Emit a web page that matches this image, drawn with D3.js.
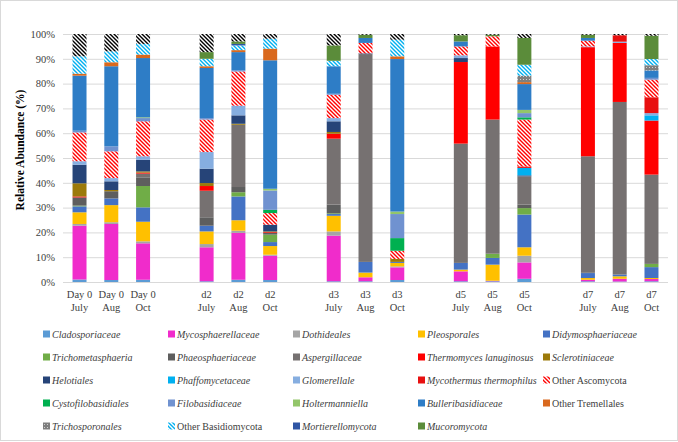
<!DOCTYPE html>
<html><head><meta charset="utf-8">
<script src="https://cdn.jsdelivr.net/npm/d3@7/dist/d3.min.js"></script>
<style>body{margin:0;background:#fff}svg{display:block}</style>
</head><body><svg id="c" width="678" height="442"></svg>
<script>
// ---- data ----
const groups = ["Day 0", "d2", "d3", "d5", "d7"];
const months = ["July", "Aug", "Oct"];
const yTicks = [0, 10, 20, 30, 40, 50, 60, 70, 80, 90, 100];
const seriesNames = ["Cladosporiaceae","Mycosphaerellaceae","Dothideales","Pleosporales","Didymosphaeriaceae",
  "Trichometasphaeria","Phaeosphaeriaceae","Aspergillaceae","Thermomyces lanuginosus","Sclerotiniaceae",
  "Helotiales","Phaffomycetaceae","Glomerellale","Mycothermus thermophilus","Other Ascomycota",
  "Cystofilobasidiales","Filobasidiaceae","Holtermanniella","Bulleribasidiaceae","Other Tremellales",
  "Trichosporonales","Other Basidiomycota","Mortierellomycota","Mucoromycota","Unassigned"];
// bars: D0 Jul, D0 Aug, D0 Oct, d2 Jul, d2 Aug, d2 Oct, d3 Jul, d3 Aug, d3 Oct, d5 Jul, d5 Aug, d5 Oct, d7 Jul, d7 Aug, d7 Oct
const cladosporiaceae     = [1.0, 0.8, 0.9, 0.3, 0.9, 0.8, 0.3, 0.3, 0.8, 0.3, 0.3, 1.3, 0.3, 0.2, 0.3];
const mycosphaerellaceae  = [21.7, 22.6, 14.7, 13.7, 18.9, 9.8, 18.4, 1.6, 5.1, 4.0, 0.2, 6.6, 0.6, 1.1, 0.9];
const dothideales         = [0.7, 0.7, 0.8, 1.3, 0.9, 0.4, 1.7, 0, 0.4, 0, 0, 2.7, 0, 0, 0];
const pleosporales        = [4.7, 6.9, 7.9, 5.1, 4.2, 3.5, 6.3, 1.9, 1.4, 0.7, 6.5, 3.4, 0.7, 1.0, 0.4];
const didymosphaeriaceae  = [2.4, 2.7, 5.8, 2.3, 9.6, 1.6, 0.7, 4.3, 0.4, 2.7, 2.7, 13.2, 2.0, 0.7, 4.4];
const trichometasphaeria  = [0.3, 0, 8.6, 0, 1.7, 3.0, 0.3, 0, 0, 0, 1.7, 2.6, 0, 0, 1.3];
const phaeosphaeriaceae   = [3.3, 2.9, 3.5, 3.4, 2.1, 0.7, 3.5, 0, 0, 0, 0, 1.4, 0.3, 0, 0];
const aspergillaceae      = [0, 0, 1.5, 10.7, 25.1, 0, 26.6, 83.8, 0, 48.1, 54.1, 11.4, 46.8, 69.6, 36.0];
const thermomyces         = [0.4, 0, 0.4, 1.9, 0, 0.3, 2.0, 0, 0, 32.9, 29.5, 0, 44.0, 23.8, 21.8];
const sclerotiniaceae     = [5.3, 0.5, 0.5, 1.2, 0.4, 0.3, 0.7, 0, 1.2, 0, 0, 0, 0, 0, 0];
const helotiales          = [7.5, 3.5, 4.7, 5.8, 3.4, 2.7, 4.3, 0.3, 0, 1.6, 0, 0.4, 0, 0, 0];
const phaffomycetaceae    = [0, 0, 0, 0, 0, 0, 0, 0, 0, 0, 0, 3.0, 0, 0, 2.1];
const glomerellale        = [1.4, 1.3, 1.4, 6.7, 3.9, 0, 1.3, 0, 0, 1.1, 0, 0, 0.3, 0.5, 0.9];
const mycothermus         = [0, 0, 0, 0, 0, 0, 0, 0, 0, 0, 0, 0.6, 0, 2.6, 6.4];
const otherAscomycota     = [11.6, 10.8, 14.1, 13.1, 13.8, 4.7, 9.4, 4.2, 3.3, 3.6, 4.1, 18.9, 2.3, 0, 7.1];
const cystofilobasidiales = [0, 0, 0, 0, 0, 1.3, 0, 0, 5.1, 0, 0, 0.9, 0, 0, 0];
const filobasidiaceae     = [0.7, 2.0, 1.3, 0.6, 0.4, 7.8, 0.4, 0, 9.7, 0, 0, 1.7, 0, 0, 0.7];
const holtermanniella     = [0, 0, 0.3, 0, 0, 0.7, 0, 0, 1.0, 0, 0, 1.3, 0, 0, 0];
const bulleribasidiaceae  = [22.2, 32.3, 23.9, 20.2, 7.4, 51.8, 11.1, 2.0, 61.5, 2.0, 0, 10.4, 1.1, 0, 3.0];
const otherTremellales    = [0.8, 1.6, 1.4, 0.7, 0.8, 4.7, 0, 0, 1.1, 0, 0, 0.8, 0, 0, 0];
const trichosporonales    = [0, 0, 0, 0, 0, 0, 0, 0, 0, 0, 0, 2.6, 0, 0, 2.1];
const otherBasidiomycota  = [7.0, 4.4, 4.3, 3.0, 1.9, 4.0, 2.2, 0, 6.7, 0, 0, 4.4, 0, 0, 2.5];
const mortierellomycota   = [0, 0, 0, 0, 0.6, 0, 0, 0, 0, 0, 0, 0, 0, 0, 0];
const mucoromycota        = [0, 0, 0, 2.7, 1.0, 0, 6.2, 1.3, 0, 2.5, 0.6, 10.8, 1.3, 0, 9.4];
const unassigned          = [9.0, 7.0, 4.0, 7.3, 3.0, 1.9, 4.6, 0.3, 2.3, 0.5, 0.3, 1.6, 0.3, 0.5, 0.7];

const seriesValues = [cladosporiaceae, mycosphaerellaceae, dothideales, pleosporales, didymosphaeriaceae,
  trichometasphaeria, phaeosphaeriaceae, aspergillaceae, thermomyces, sclerotiniaceae,
  helotiales, phaffomycetaceae, glomerellale, mycothermus, otherAscomycota,
  cystofilobasidiales, filobasidiaceae, holtermanniella, bulleribasidiaceae, otherTremellales,
  trichosporonales, otherBasidiomycota, mortierellomycota, mucoromycota, unassigned];

// ---- styles ----
const fills = ["#5B9BD5","#F02CCB","#A5A5A5","#FFC000","#4472C4",
  "#70AD47","#5E5E5E","#767171","#FF0000","#9C7A0A",
  "#264478","#00B0F0","#86AEE0","#E81010","url(#hRed)",
  "#00B050","#7092D0","#93C66A","#2E7DC6","#D9691E",
  "url(#pGray)","url(#hCyan)","#2F55A4","#5B8C3A","url(#hBlack)"];
const italic = n => !n.startsWith("Other");

// ---- build ----
const svg = d3.select("#c");
const defs = svg.append("defs");
function hatch(id, color){
  const p = defs.append("pattern").attr("id", id).attr("patternUnits","userSpaceOnUse")
    .attr("width",4).attr("height",4);
  p.append("rect").attr("width",4).attr("height",4).attr("fill","#fff");
  p.append("path").attr("d","M-1,-1L5,5M3,-1L5,1M-1,3L1,5").attr("stroke",color).attr("stroke-width",1.4);
}
hatch("hRed","#FF0000"); hatch("hCyan","#00B0F0"); hatch("hBlack","#000");
const pg = defs.append("pattern").attr("id","pGray").attr("patternUnits","userSpaceOnUse").attr("width",3).attr("height",3);
pg.append("rect").attr("width",3).attr("height",3).attr("fill","#7F7F7F");
pg.append("rect").attr("x",1).attr("y",1).attr("width",1).attr("height",1).attr("fill","#D0D0D0");

svg.append("rect").attr("x",0.5).attr("y",0.5).attr("width",677).attr("height",440)
  .attr("fill","#fff").attr("stroke","#D9D9D9");

// slots with gaps between groups
const slots = [];
const bars = [];
groups.forEach((g, gi) => {
  months.forEach(m => { const k = g + "|" + m; slots.push(k); bars.push({key:k, g, m}); });
  if (gi < groups.length - 1) slots.push("gap" + gi);
});
bars.forEach((b, i) => seriesNames.forEach((s, si) => b[s] = seriesValues[si][i]));

const x = d3.scaleBand().domain(slots).range([63, 668]).paddingInner(0.56).paddingOuter(0.3);
const y = d3.scaleLinear().domain([0, 100]).range([282, 34]);

// grid
svg.append("g").selectAll("line").data(yTicks).join("line")
  .attr("x1",63).attr("x2",668).attr("y1",d=>y(d)+0.5).attr("y2",d=>y(d)+0.5)
  .attr("stroke","#D9D9D9").attr("stroke-width",1);

// y axis
const yAxis = d3.axisLeft(y).tickValues(yTicks).tickFormat(d => d + "%").tickSize(0).tickPadding(8);
const ya = svg.append("g").attr("transform","translate(63,0)").call(yAxis);
ya.select(".domain").remove();
ya.selectAll("text").attr("font-family","'Liberation Serif', 'Times New Roman', serif").attr("font-size",10.5).attr("fill","#404040");

// stacked bars
const stack = d3.stack().keys(seriesNames)(bars);
svg.append("g").selectAll("g").data(stack).join("g")
  .attr("fill",(d,i)=>fills[i])
  .selectAll("rect").data(d=>d).join("rect")
  .attr("x", d => x(d.data.key))
  .attr("width", x.bandwidth())
  .attr("y", d => y(d[1]))
  .attr("height", d => Math.max(0, y(d[0]) - y(d[1])));

// x labels
const xl = svg.append("g").attr("font-family","'Liberation Serif', 'Times New Roman', serif")
  .attr("font-size",10.5).attr("fill","#404040").attr("text-anchor","middle");
bars.forEach(b => {
  const cx = x(b.key) + x.bandwidth()/2;
  xl.append("text").attr("x",cx).attr("y",298).text(b.g);
  xl.append("text").attr("x",cx).attr("y",311).text(b.m);
});

// y title
svg.append("text").attr("transform","translate(24,150) rotate(-90)")
  .attr("text-anchor","middle").attr("font-family","'Liberation Serif', 'Times New Roman', serif")
  .attr("font-weight","bold").attr("font-size",11.5).attr("fill","#000").text("Relative Abundance (%)");

// legend (24 entries, 5 columns)
const legNames = seriesNames.slice(0, 24);
const colX = [43, 168, 293, 418, 543];
const rowY = [334, 357, 380, 403, 426];
const lg = svg.append("g").selectAll("g").data(legNames).join("g")
  .attr("transform",(d,i)=>`translate(${colX[i%5]},${rowY[Math.floor(i/5)]})`);
lg.append("rect").attr("x",0).attr("y",-3.5).attr("width",7).attr("height",7).attr("fill",(d,i)=>fills[i]);
lg.append("text").attr("x",9).attr("y",4).attr("font-family","'Liberation Serif', 'Times New Roman', serif")
  .attr("font-size",10).attr("fill","#404040").attr("font-style",d=>italic(d)?"italic":"normal").text(d=>d);
</script></body></html>
